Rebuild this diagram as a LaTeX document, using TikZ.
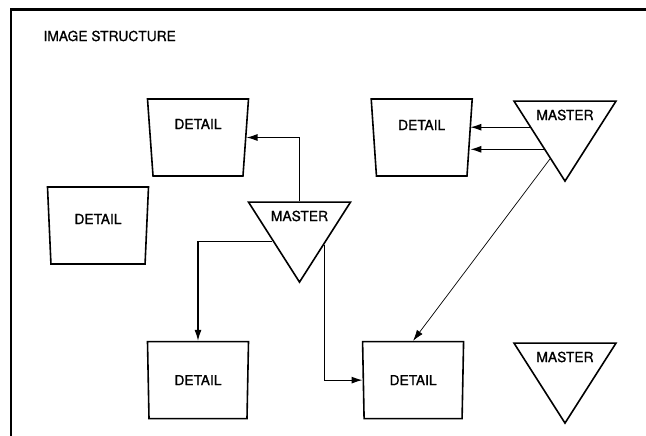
\documentclass[tikz,border=0pt]{standalone}
\usepackage{fontspec}
\setmainfont{TeX Gyre Heros}[FakeBold=1]
\usetikzlibrary{positioning,shapes.geometric,arrows.meta}
\tikzset{link/.style={line width=1.1pt,-{Latex[length=11pt,width=7pt]}}}

\begin{document}
\begin{tikzpicture}[x=1pt,y=1pt,font=\fontsize{13.8}{16}\selectfont,
 detail/.style={draw,line width=1.6pt,trapezium,shape border rotate=180,trapezium angle=81.5,
  trapezium stretches body,minimum width=101pt,minimum height=77pt,inner sep=0pt},
 master/.style={draw,line width=1.6pt,isosceles triangle,shape border rotate=-90,
  isosceles triangle stretches,minimum width=102pt,minimum height=80pt,inner sep=0pt}]
\useasboundingbox (0,0) rectangle (646,-436);
\draw[line width=2.6pt] (11,-436) |- (646,-9.7);
\node[anchor=west] (title) at (40,-36) {IMAGE STRUCTURE};

\node[detail,text depth=27pt] (D1) at (198,-137.5) {DETAIL};
\node[detail,text depth=25pt,right=126.5pt of D1] (D2) {DETAIL};
\node[detail,text depth=13pt] (D3) at (98,-225.5) {DETAIL};
\node[detail,below=164pt of D1] (D4) {DETAIL};
\node[detail,right=114pt of D4] (D5) {DETAIL};

\node[master] (M1) at (565,-115) {MASTER};
\node[master] (M2) at (299.5,-216) {MASTER};
\node[master] (M3) at (565,-357) {MASTER};

\draw[link] (M2.north) |- (D1);
\draw[link] (M2.223) -| (D4);
\draw[link] (M2.-50) |- (D5);
\draw[link] (M1.199) -- (M1.199 -| D2.east);
\draw[link] (M1.238) -- (M1.238 -| D2.east);
\draw[link,line width=0.7pt] (M1.251) -- (D5.north);
\end{tikzpicture}
\end{document}
